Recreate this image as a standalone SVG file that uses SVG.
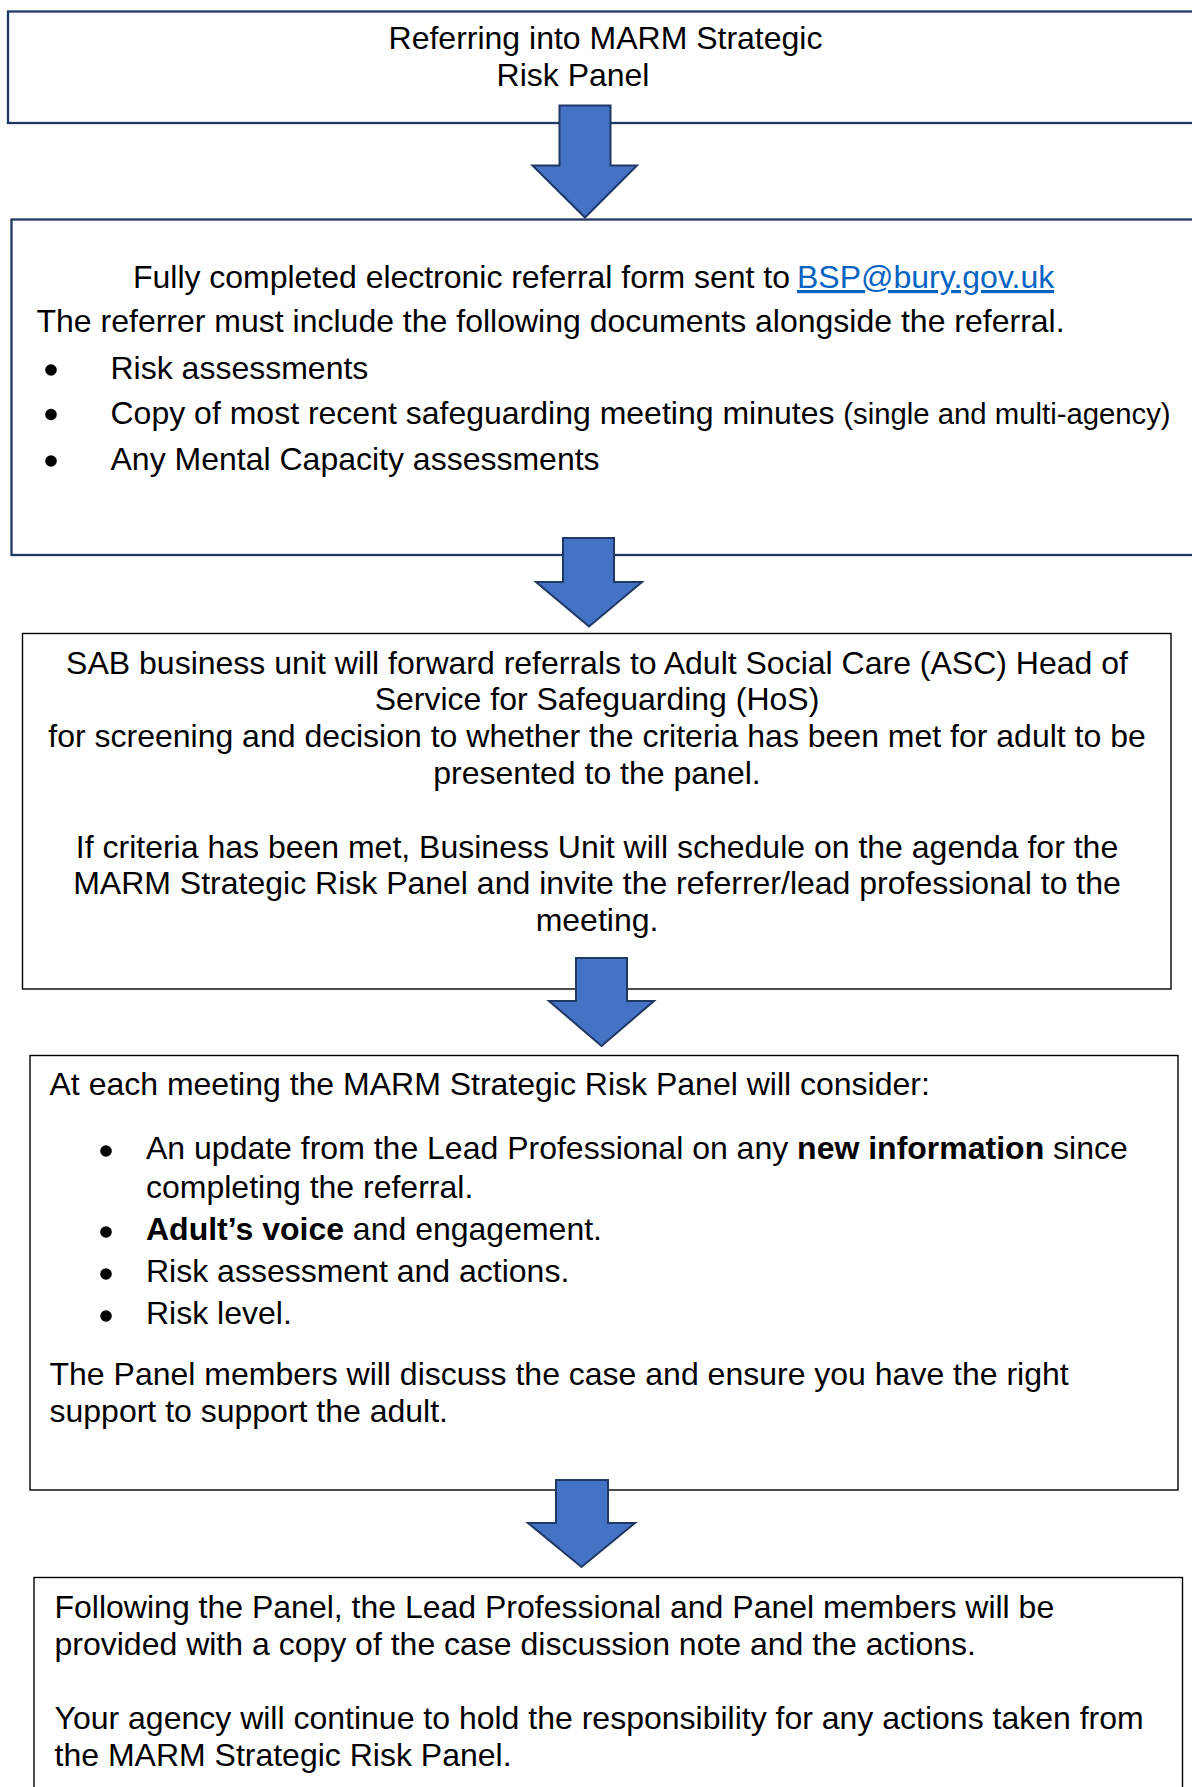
<svg xmlns="http://www.w3.org/2000/svg" width="1192" height="1787" viewBox="0 0 1192 1787">
  <style>
    .bg { fill: #ffffff; }
    .box-navy { fill: #ffffff; stroke: #1F3864; stroke-width: 2.3; }
    .box-dark { fill: #ffffff; stroke: #000000; stroke-width: 1.4; }
    .t { font-family: "Liberation Sans", Arial, sans-serif; font-size: 32px; fill: #000000; }
    .c { text-anchor: middle; }
    .small { font-size: 29.3px; }
    .b { font-weight: bold; }
    .link { fill: #0563C1; text-decoration: underline; }
    .dot { fill: #000000; }
    .arrow { fill: #4472C4; stroke: #1F3864; stroke-width: 2; stroke-linejoin: miter; }
  </style>

  <rect class="bg" x="0" y="0" width="1192" height="1787"/>

  <g id="node-referring">
    <rect class="box-navy" x="8" y="11.5" width="1200" height="111.5"/>
    <text class="t c" x="605.5" y="49">Referring into MARM Strategic</text>
    <text class="t c" x="573" y="85.5">Risk Panel</text>
  </g>

  <g id="node-referral-form">
    <rect class="box-navy" x="11.5" y="219.5" width="1200" height="335.5"/>
    <text class="t" x="133" y="288" textLength="657" lengthAdjust="spacing">Fully completed electronic referral form sent to</text>
    <text class="t link" x="797" y="288">BSP@bury.gov.uk</text>
    <text class="t" x="36.5" y="331.5">The referrer must include the following documents alongside the referral.</text>
    <circle class="dot" cx="51" cy="370" r="5.8"/>
    <text class="t" x="110.5" y="379">Risk assessments</text>
    <circle class="dot" cx="51" cy="414.5" r="5.8"/>
    <text class="t" x="110.5" y="423.5">Copy of most recent safeguarding meeting minutes <tspan class="small">(single and multi-agency)</tspan></text>
    <circle class="dot" cx="51" cy="461" r="5.8"/>
    <text class="t" x="110.5" y="470">Any Mental Capacity assessments</text>
  </g>

  <g id="node-screening">
    <rect class="box-dark" x="22.5" y="633.5" width="1148.5" height="355.5"/>
    <text class="t c" x="597" y="674">SAB business unit will forward referrals to Adult Social Care (ASC) Head of</text>
    <text class="t c" x="597" y="710">Service for Safeguarding (HoS)</text>
    <text class="t c" x="597" y="746.5">for screening and decision to whether the criteria has been met for adult to be</text>
    <text class="t c" x="597" y="783.5">presented to the panel.</text>
    <text class="t c" x="597" y="857.5">If criteria has been met, Business Unit will schedule on the agenda for the</text>
    <text class="t c" x="597" y="894">MARM Strategic Risk Panel and invite the referrer/lead professional to the</text>
    <text class="t c" x="597" y="930.5">meeting.</text>
  </g>

  <g id="node-panel-meeting">
    <rect class="box-dark" x="30" y="1055.5" width="1148" height="434.5"/>
    <text class="t" x="49.5" y="1095">At each meeting the MARM Strategic Risk Panel will consider:</text>
    <circle class="dot" cx="106" cy="1151" r="5.8"/>
    <text class="t" x="146" y="1159">An update from the Lead Professional on any <tspan class="b">new information</tspan> since</text>
    <text class="t" x="146" y="1198">completing the referral.</text>
    <circle class="dot" cx="106" cy="1232" r="5.8"/>
    <text class="t" x="146" y="1240"><tspan class="b">Adult’s voice</tspan> and engagement.</text>
    <circle class="dot" cx="106" cy="1274" r="5.8"/>
    <text class="t" x="146" y="1282">Risk assessment and actions.</text>
    <circle class="dot" cx="106" cy="1316" r="5.8"/>
    <text class="t" x="146" y="1324">Risk level.</text>
    <text class="t" x="49.5" y="1385">The Panel members will discuss the case and ensure you have the right</text>
    <text class="t" x="49.5" y="1422">support to support the adult.</text>
  </g>

  <g id="node-following-panel">
    <rect class="box-dark" x="34" y="1577.5" width="1148.5" height="240"/>
    <text class="t" x="54.5" y="1618">Following the Panel, the Lead Professional and Panel members will be</text>
    <text class="t" x="54.5" y="1655">provided with a copy of the case discussion note and the actions.</text>
    <text class="t" x="54.5" y="1728.5">Your agency will continue to hold the responsibility for any actions taken from</text>
    <text class="t" x="54.5" y="1766">the MARM Strategic Risk Panel.</text>
  </g>

  <g id="connectors">
    <path class="arrow" d="M559.5,105.5 H610.5 V165.5 H637 L585,217.5 L532.5,165.5 H559.5 Z"/>
    <path class="arrow" d="M563,538 H614 V582 H642 L589,626.5 L536,582 H563 Z"/>
    <path class="arrow" d="M576,958 H627 V1001 H654 L601.5,1046 L549,1001 H576 Z"/>
    <path class="arrow" d="M556,1480 H608 V1523 H635 L581.5,1567 L528,1523 H556 Z"/>
  </g>
</svg>
